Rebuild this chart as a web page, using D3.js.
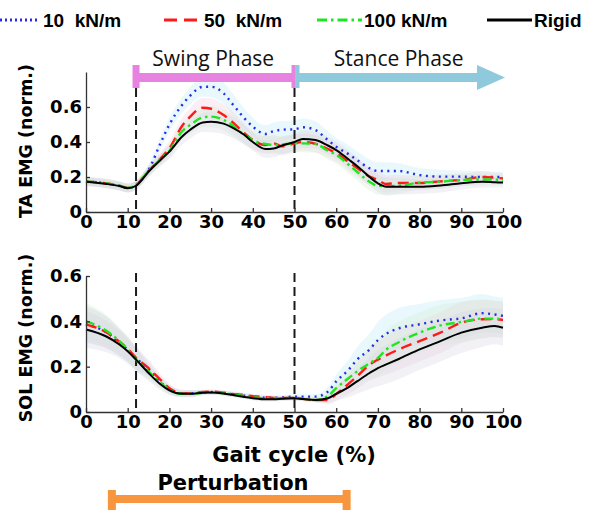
<!DOCTYPE html>
<html>
<head>
<meta charset="utf-8">
<script src="https://cdn.jsdelivr.net/npm/d3@7"></script>
<style>
  html, body { margin: 0; padding: 0; background: #fff; }
  svg { display: block; }
</style>
</head>
<body>
<svg id="chart" width="592" height="510"></svg>
<script>
// ---------------- DATA ----------------
const gait = [0,5,8,10,12,15,18,20,23,25,28,30,33,35,38,40,43,45,47,50,52,55,58,60,63,65,68,70,72,75,80,85,90,95,98,100];

const seriesNames = ["10  kN/m", "50  kN/m", "100 kN/m", "Rigid"];

// TA EMG (normalised)
const ta10   = [.175,.163,.150,.138,.155,.240,.400,.500,.610,.665,.715,.716,.678,.621,.535,.488,.446,.462,.470,.473,.484,.469,.411,.373,.330,.297,.250,.234,.234,.234,.211,.202,.202,.200,.200,.199];
const ta50   = [.173,.163,.150,.138,.155,.235,.310,.364,.490,.545,.596,.590,.554,.516,.450,.411,.383,.392,.375,.392,.400,.390,.360,.337,.285,.251,.202,.183,.160,.166,.166,.175,.183,.200,.196,.192];
const ta100  = [.175,.163,.150,.138,.155,.235,.305,.350,.460,.497,.540,.545,.526,.497,.440,.411,.389,.383,.385,.392,.392,.389,.350,.326,.270,.230,.173,.150,.148,.150,.168,.173,.183,.186,.185,.183];
const taRig  = [.173,.160,.148,.136,.150,.230,.300,.345,.430,.470,.512,.516,.505,.484,.440,.400,.360,.363,.380,.400,.417,.411,.380,.354,.300,.263,.200,.164,.145,.145,.145,.152,.164,.173,.170,.168];
const taSd   = [.025,.025,.025,.025,.025,.030,.035,.040,.045,.050,.055,.060,.060,.060,.055,.050,.050,.050,.050,.050,.050,.050,.050,.050,.050,.050,.050,.050,.050,.045,.040,.040,.035,.035,.030,.030];

// SOL EMG (normalised)
const sol10  = [.387,.350,.305,.275,.237,.190,.130,.100,.082,.082,.086,.088,.084,.079,.072,.067,.063,.063,.064,.068,.068,.068,.090,.135,.187,.231,.276,.317,.345,.369,.387,.404,.413,.436,.430,.424];
const sol50  = [.387,.350,.310,.279,.239,.194,.139,.105,.083,.082,.088,.090,.085,.080,.075,.070,.065,.062,.062,.062,.058,.053,.053,.080,.125,.157,.209,.231,.250,.276,.313,.350,.394,.409,.410,.406];
const sol100 = [.401,.357,.313,.276,.231,.179,.127,.098,.080,.080,.085,.086,.083,.078,.070,.065,.060,.060,.061,.062,.058,.053,.070,.105,.150,.179,.215,.239,.275,.308,.350,.382,.397,.412,.412,.409];
const solRig = [.364,.332,.298,.268,.231,.172,.120,.095,.080,.080,.085,.086,.082,.076,.066,.061,.056,.056,.058,.061,.057,.053,.061,.080,.110,.135,.172,.194,.210,.234,.276,.313,.350,.372,.379,.372];
const solSd  = [.080,.070,.060,.055,.050,.035,.025,.020,.015,.015,.010,.010,.010,.010,.010,.010,.010,.010,.010,.010,.010,.010,.020,.030,.045,.055,.070,.080,.085,.090,.090,.090,.090,.085,.080,.080];

const xTicks = [0,10,20,30,40,50,60,70,80,90,100];
const yTicksTop = [0,0.2,0.4,0.6];
const yTicksBot = [0,0.2,0.4,0.6];

const phaseMarks = [12, 50];          // swing start / stance start (% gait)
const stanceEnd = 100;
const perturbation = [6.2, 62.5];     // perturbation window (% gait)

// ---------------- STYLE ----------------
const lineColors = ["#2a2ae8", "#ff1a1a", "#1ee61e", "#000000"];
const bandColors = ["#bfeaf5", "#f4cde0", "#d4efd4", "#d8d6e6"];
const dashes = ["2,4.5", "11,6", "9,4,2.5,4", null];
const widths = [2.4, 2.4, 2.4, 2];
const tickFont = "'DejaVu Sans', sans-serif";

const svg = d3.select("#chart");
const x = d3.scaleLinear().domain([0,100]).range([86, 503]);
const yTop = d3.scaleLinear().domain([0,0.8]).range([212, 72]);
const yBot = d3.scaleLinear().domain([0,0.6]).range([412, 276]);
const fmt = d => d === 0 ? "0" : d3.format(".1f")(d);

function panel(yScale, yTicks, series, sd, dashTop, label, labelY) {
  const g = svg.append("g");
  // bands
  series.forEach((s, i) => {
    const area = d3.area()
      .x((d, j) => x(gait[j]))
      .y0((d, j) => yScale(Math.max(0, s[j] - sd[j])))
      .y1((d, j) => yScale(s[j] + sd[j]))
      .curve(d3.curveMonotoneX);
    g.append("path").attr("d", area(s))
      .attr("fill", bandColors[i]).attr("opacity", 0.35);
  });
  // phase dashed lines
  phaseMarks.forEach(p => {
    g.append("line").attr("x1", x(p)).attr("x2", x(p))
      .attr("y1", dashTop).attr("y2", yScale(0))
      .attr("stroke", "#1a1a1a").attr("stroke-width", 2)
      .attr("stroke-dasharray", "9,5");
  });
  // lines
  series.forEach((s, i) => {
    const line = d3.line().x((d, j) => x(gait[j])).y(d => yScale(d)).curve(d3.curveMonotoneX);
    g.append("path").attr("d", line(s))
      .attr("fill", "none").attr("stroke", lineColors[i])
      .attr("stroke-width", widths[i])
      .attr("stroke-dasharray", dashes[i]);
  });
  // axes
  const ax = g.append("g").attr("transform", `translate(0,${yScale(0)})`)
    .call(d3.axisBottom(x).tickValues(xTicks).tickSizeInner(-4).tickSizeOuter(0).tickPadding(3));
  const ay = g.append("g").attr("transform", `translate(${x(0)},0)`)
    .call(d3.axisLeft(yScale).tickValues(yTicks).tickFormat(fmt).tickSizeInner(-4).tickSizeOuter(0).tickPadding(4));
  [ax, ay].forEach(a => {
    a.selectAll("path,line").attr("stroke", "#333").attr("stroke-width", 1.3);
    a.selectAll("text").attr("fill", "#000")
      .style("font-family", tickFont).style("font-weight", "bold").style("font-size", "18px");
  });
  // y title
  g.append("text")
    .attr("transform", `translate(26,${labelY}) rotate(-90)`)
    .attr("text-anchor", "middle").attr("dy", "0.36em").attr("fill", "#000")
    .style("font-family", tickFont).style("font-weight", "bold").style("font-size", "17.5px")
    .text(label);
}

panel(yTop, yTicksTop, [ta10, ta50, ta100, taRig], taSd, 88, "TA EMG (norm.)", 141);
panel(yBot, yTicksBot, [sol10, sol50, sol100, solRig], solSd, 273, "SOL EMG (norm.)", 338);

// x title
svg.append("text").attr("x", 294).attr("y", 462).attr("text-anchor", "middle").attr("fill", "#000")
  .style("font-family", tickFont).style("font-weight", "bold").style("font-size", "21px")
  .text("Gait cycle (%)");

// ---------------- PHASE BARS ----------------
const pink = "#e882e0", blue = "#8ec9dc", orange = "#f7963f";
const barY0 = 73, barY1 = 82, capY0 = 65, capY1 = 88;
const xs = x(phaseMarks[0]), xm = x(phaseMarks[1]), xe = x(stanceEnd);
svg.append("rect").attr("x", xs).attr("y", barY0).attr("width", xm - xs).attr("height", barY1 - barY0).attr("fill", pink);
svg.append("rect").attr("x", xs - 3.5).attr("y", capY0).attr("width", 7).attr("height", capY1 - capY0).attr("fill", pink);
svg.append("rect").attr("x", xm - 3).attr("y", capY0).attr("width", 3.5).attr("height", capY1 - capY0).attr("fill", pink);
svg.append("rect").attr("x", xm + 0.5).attr("y", barY0).attr("width", (xe - 26) - xm).attr("height", barY1 - barY0).attr("fill", blue);
svg.append("rect").attr("x", xm + 0.5).attr("y", capY0).attr("width", 4.5).attr("height", capY1 - capY0).attr("fill", blue);
svg.append("path").attr("d", `M${xe - 26},${capY0} L${xe + 2},${(capY0 + capY1 + 2) / 2} L${xe - 26},${capY1 + 2} Z`).attr("fill", blue);

const phaseFont = "'Open Sans', sans-serif";
svg.append("text").attr("x", (xs + xm) / 2 - 2).attr("y", 66).attr("text-anchor", "middle").attr("fill", "#111")
  .style("font-family", phaseFont).style("font-size", "21px").text("Swing Phase");
svg.append("text").attr("x", (xm + xe) / 2).attr("y", 66).attr("text-anchor", "middle").attr("fill", "#111")
  .style("font-family", phaseFont).style("font-size", "21px").text("Stance Phase");

// perturbation bar
const px0 = x(perturbation[0]), px1 = x(perturbation[1]);
svg.append("rect").attr("x", px0).attr("y", 495).attr("width", px1 - px0).attr("height", 8).attr("fill", orange);
svg.append("rect").attr("x", px0 - 4).attr("y", 490).attr("width", 8).attr("height", 25).attr("fill", orange);
svg.append("rect").attr("x", px1 - 4).attr("y", 490).attr("width", 8).attr("height", 25).attr("fill", orange);
svg.append("text").attr("x", 233).attr("y", 490).attr("text-anchor", "middle")
  .attr("fill", "#000").style("fill", "#000")
  .style("font-family", tickFont).style("font-weight", "bold").style("font-size", "21px")
  .text("Perturbation");

// ---------------- LEGEND ----------------
const legend = [
  {x0: 0, x1: 38, tx: 43},
  {x0: 164, x1: 198, tx: 204},
  {x0: 317, x1: 362, tx: 364},
  {x0: 487, x1: 532, tx: 534}
];
const legDash = ["2,3", "13,7", "10,4,2.5,4", null];
legend.forEach((l, i) => {
  svg.append("line").attr("x1", l.x0).attr("x2", l.x1).attr("y1", 20).attr("y2", 20)
    .attr("stroke", lineColors[i]).attr("stroke-width", 3)
    .attr("stroke-dasharray", legDash[i]);
  svg.append("text").attr("x", l.tx).attr("y", 27).attr("fill", "#000")
    .style("font-family", "'Liberation Sans', Arial, sans-serif").style("font-weight", "bold")
    .style("font-size", "19px").style("white-space", "pre")
    .text(seriesNames[i]);
});
</script>
</body>
</html>
